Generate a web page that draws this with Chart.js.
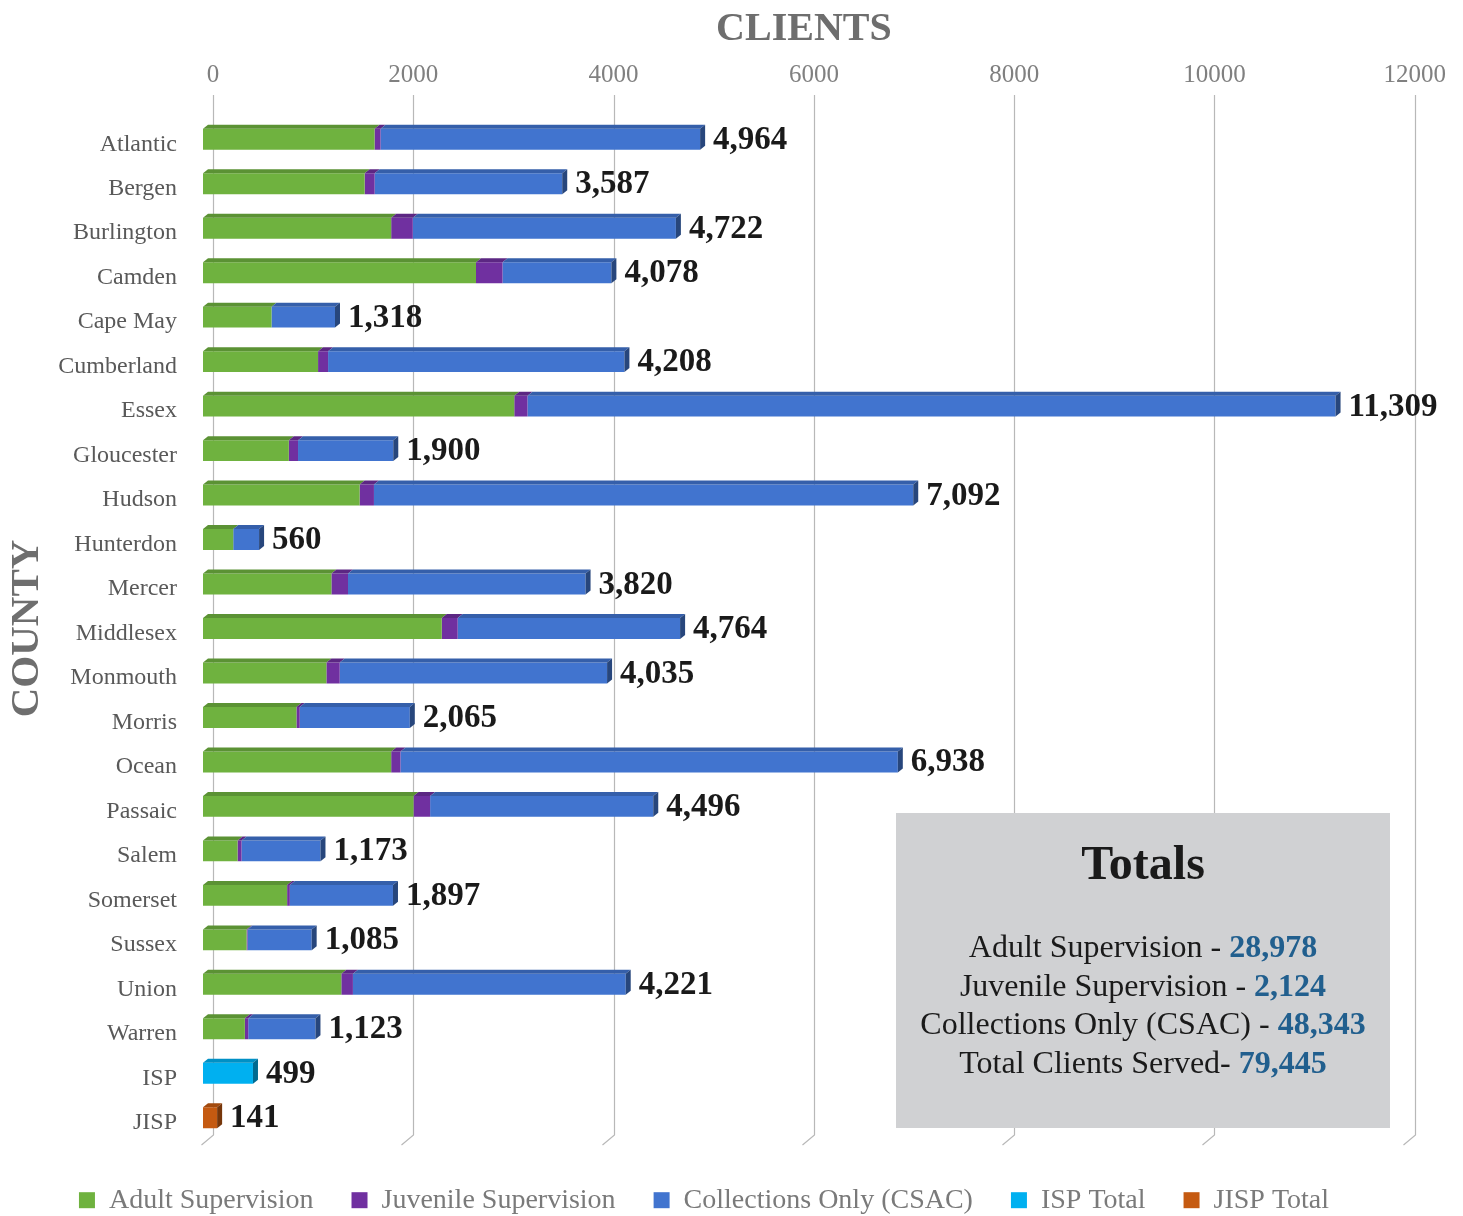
<!DOCTYPE html>
<html>
<head>
<meta charset="utf-8">
<script src="https://cdn.jsdelivr.net/npm/chart.js@4.4.1/dist/chart.umd.min.js"></script>
<style>
    html, body { margin: 0; padding: 0; background: #ffffff; }
    #wrap { width: 1463px; height: 1216px; position: relative; }
</style>
</head>
<body>
<div id="wrap"><canvas id="countyChart"></canvas></div>
<script>

// ======================================================
// Data
// ======================================================

const counties = [
    "Atlantic", "Bergen", "Burlington", "Camden", "Cape May", "Cumberland",
    "Essex", "Gloucester", "Hudson", "Hunterdon", "Mercer", "Middlesex",
    "Monmouth", "Morris", "Ocean", "Passaic", "Salem", "Somerset",
    "Sussex", "Union", "Warren", "ISP", "JISP"
];

const adultSupervision = [
    1713, 1614, 1879, 2726, 684, 1149, 3108, 857, 1564, 302, 1282, 2384,
    1232, 933, 1879, 2102, 345, 840, 435, 1381, 418, null, null
];

const juvenileSupervision = [
    60, 100, 216, 265, 0, 100, 132, 92, 143, 0, 166, 159,
    133, 33, 93, 166, 40, 27, 10, 116, 34, null, null
];

const collectionsOnly = [
    3191, 1873, 2627, 1087, 634, 2959, 8069, 951, 5385, 258, 2372, 2221,
    2670, 1099, 4966, 2228, 788, 1030, 640, 2724, 671, null, null
];

const ispTotal = [
    null, null, null, null, null, null, null, null, null, null, null, null,
    null, null, null, null, null, null, null, null, null, 499, null
];

const jispTotal = [
    null, null, null, null, null, null, null, null, null, null, null, null,
    null, null, null, null, null, null, null, null, null, null, 141
];

const xTicks = [0, 2000, 4000, 6000, 8000, 10000, 12000];

const totalsLines = [
    ["Adult Supervision - ", "28,978"],
    ["Juvenile Supervision - ", "2,124"],
    ["Collections Only (CSAC) - ", "48,343"],
    ["Total Clients Served- ", "79,445"]
];


// ======================================================
// Helpers
// ======================================================

const SERIF = "'Liberation Serif', 'DejaVu Serif', serif";

function shade(hex, f) {
    const n = parseInt(hex.slice(1), 16);
    const r = Math.round(((n >> 16) & 255) * f);
    const g = Math.round(((n >> 8) & 255) * f);
    const b = Math.round((n & 255) * f);
    return "rgb(" + r + "," + g + "," + b + ")";
}


// ======================================================
// Plugins
// ======================================================

// legend gets a fixed height so the plot ends where the original does
const legendHeight = {
    id: "legendHeight",
    beforeInit(chart) {
        const fit = chart.legend.fit;
        chart.legend.fit = function () {
            fit.call(this);
            this.height = 76;
        };
    }
};

// gridlines drawn on the "back wall" with a small floor bend
const wallGrid = {
    id: "wallGrid",
    beforeDatasetsDraw(chart) {
        const ctx = chart.ctx;
        const x = chart.scales.x;
        const area = chart.chartArea;
        ctx.save();
        ctx.strokeStyle = "#b8b8b8";
        ctx.lineWidth = 1.2;
        xTicks.forEach(v => {
            const px = Math.round(x.getPixelForValue(v)) + 10.5;
            ctx.beginPath();
            ctx.moveTo(px, 95);
            ctx.lineTo(px, area.bottom - 5);
            ctx.lineTo(px - 12, area.bottom + 5);
            ctx.stroke();
        });
        ctx.restore();
    }
};

// top and end faces to give the bars some depth
const barDepth = {
    id: "barDepth",
    afterDatasetsDraw(chart) {
        const ctx = chart.ctx;
        const dx = 5, dy = -4;
        ctx.save();
        counties.forEach((_, i) => {
            let last = null;
            chart.data.datasets.forEach((ds, d) => {
                const v = ds.data[i];
                if (!v) return;
                const el = chart.getDatasetMeta(d).data[i];
                const p = el.getProps(["x", "y", "base", "height"], true);
                const top = p.y - p.height / 2;
                ctx.fillStyle = shade(ds.backgroundColor, 0.82);
                ctx.beginPath();
                ctx.moveTo(p.base, top);
                ctx.lineTo(p.base + dx, top + dy);
                ctx.lineTo(p.x + dx, top + dy);
                ctx.lineTo(p.x, top);
                ctx.closePath();
                ctx.fill();
                last = { p: p, color: ds.backgroundColor };
            });
            if (last) {
                const p = last.p;
                const top = p.y - p.height / 2;
                const bottom = p.y + p.height / 2;
                ctx.fillStyle = shade(last.color, 0.6);
                ctx.beginPath();
                ctx.moveTo(p.x, top);
                ctx.lineTo(p.x + dx, top + dy);
                ctx.lineTo(p.x + dx, bottom + dy);
                ctx.lineTo(p.x, bottom);
                ctx.closePath();
                ctx.fill();
            }
        });
        ctx.restore();
    }
};

// row totals at the end of each bar
const rowTotals = {
    id: "rowTotals",
    afterDatasetsDraw(chart) {
        const ctx = chart.ctx;
        ctx.save();
        ctx.font = "bold 33px " + SERIF;
        ctx.fillStyle = "#1a1a1a";
        ctx.textBaseline = "middle";
        ctx.textAlign = "left";
        counties.forEach((_, i) => {
            let total = 0;
            let lastBar = null;
            chart.data.datasets.forEach((ds, d) => {
                const v = ds.data[i];
                if (v) {
                    total += v;
                    lastBar = chart.getDatasetMeta(d).data[i];
                }
            });
            if (lastBar) {
                ctx.fillText(total.toLocaleString("en-US"), lastBar.x + 13, lastBar.y + 1);
            }
        });
        ctx.restore();
    }
};

// grey "Totals" box in the lower right
const totalsBox = {
    id: "totalsBox",
    afterDraw(chart) {
        const ctx = chart.ctx;
        const cx = 1143;
        ctx.save();
        ctx.fillStyle = "#d0d1d3";
        ctx.fillRect(896, 813, 494, 315);

        ctx.fillStyle = "#1a1a1a";
        ctx.textAlign = "center";
        ctx.textBaseline = "middle";
        ctx.font = "bold 48px " + SERIF;
        ctx.fillText("Totals", cx, 867);

        ctx.textAlign = "left";
        const normal = "32px " + SERIF;
        const bold = "bold 32px " + SERIF;
        totalsLines.forEach((line, k) => {
            const y = 949 + k * 38.5;
            ctx.font = normal;
            const w1 = ctx.measureText(line[0]).width;
            ctx.font = bold;
            const w2 = ctx.measureText(line[1]).width;
            const x0 = cx - (w1 + w2) / 2;
            ctx.font = normal;
            ctx.fillStyle = "#1a1a1a";
            ctx.fillText(line[0], x0, y);
            ctx.font = bold;
            ctx.fillStyle = "#215f8e";
            ctx.fillText(line[1], x0 + w1, y);
        });
        ctx.restore();
    }
};


// ======================================================
// Chart
// ======================================================

const ctx = document.getElementById("countyChart").getContext("2d");

new Chart(ctx, {

    type: "bar",

    data: {

        labels: counties,

        datasets: [
            { label: "Adult Supervision", data: adultSupervision, backgroundColor: "#6fb23f" },
            { label: "Juvenile Supervision", data: juvenileSupervision, backgroundColor: "#7030a0" },
            { label: "Collections Only (CSAC)", data: collectionsOnly, backgroundColor: "#4174cf" },
            { label: "ISP Total", data: ispTotal, backgroundColor: "#00b0f0" },
            { label: "JISP Total", data: jispTotal, backgroundColor: "#c55a11" }
        ]

    },

    options: {

        indexAxis: "y",

        responsive: true,

        maintainAspectRatio: false,

        animation: false,

        barPercentage: 0.47,

        categoryPercentage: 1,

        layout: {
            padding: { top: 0, right: 55, bottom: 0, left: 0 }
        },

        plugins: {

            legend: {
                position: "bottom",
                title: {
                    display: true,
                    text: "",
                    padding: { top: 7, bottom: 0 },
                    font: { size: 1 }
                },
                labels: {
                    boxWidth: 16,
                    boxHeight: 16,
                    padding: 38,
                    color: "#7a7a7a",
                    font: { family: SERIF, size: 28 }
                }
            },

            tooltip: { enabled: false }

        },

        scales: {

            x: {
                position: "top",
                stacked: true,
                min: 0,
                max: 12000,
                afterFit: s => { s.height = 117; },
                grid: { display: false, drawTicks: false },
                border: { display: false },
                ticks: {
                    stepSize: 2000,
                    padding: 27,
                    labelOffset: 10,
                    color: "#808080",
                    font: { family: SERIF, size: 25 },
                    callback: v => String(v)
                },
                title: {
                    display: true,
                    text: "CLIENTS",
                    color: "#6e6e6e",
                    padding: { top: 6, bottom: 0 },
                    font: { family: SERIF, size: 40, weight: "bold" }
                }
            },

            y: {
                stacked: true,
                afterFit: s => { s.width = 203; },
                grid: { display: false, drawTicks: false },
                border: { display: false },
                ticks: {
                    padding: 26,
                    labelOffset: 5,
                    color: "#595959",
                    font: { family: SERIF, size: 24 }
                },
                title: {
                    display: true,
                    text: "COUNTY",
                    color: "#6e6e6e",
                    padding: { top: 3, bottom: 0 },
                    font: { family: SERIF, size: 41, weight: "bold" }
                }
            }

        }

    },

    plugins: [legendHeight, wallGrid, barDepth, rowTotals, totalsBox]

});

</script>
</body>
</html>
